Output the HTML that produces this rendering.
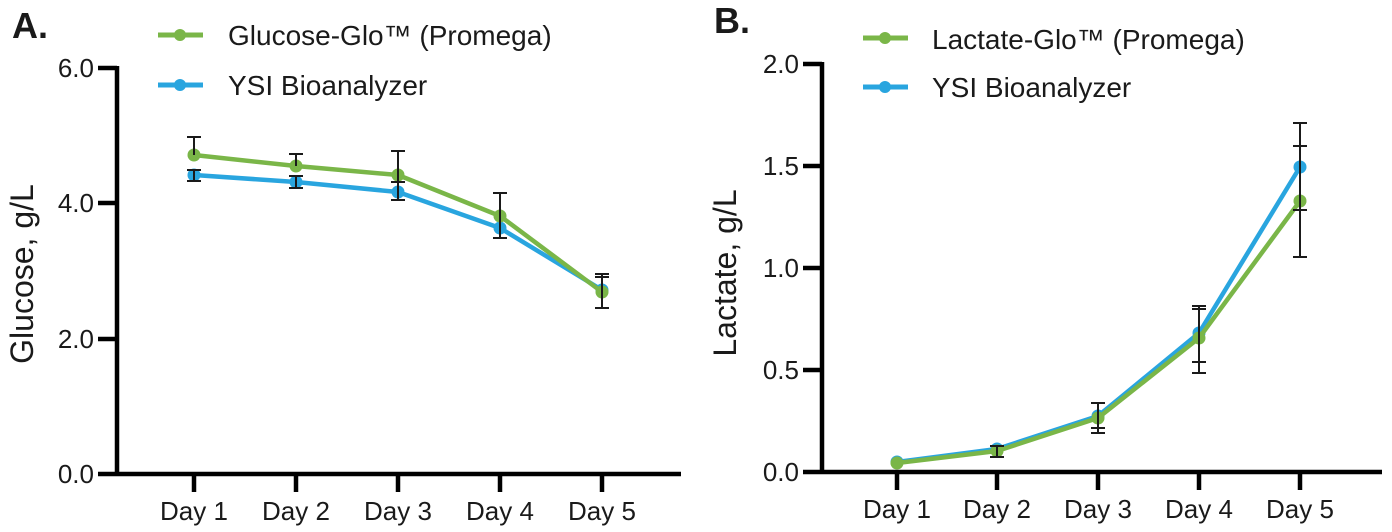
<!DOCTYPE html>
<html>
<head>
<meta charset="utf-8">
<style>
html,body{margin:0;padding:0;background:#fff;}
svg{display:block;}
text{font-family:"Liberation Sans",Arial,sans-serif;fill:#1a1a1a;}
</style>
</head>
<body>
<svg width="1392" height="532" viewBox="0 0 1392 532" xmlns="http://www.w3.org/2000/svg">
<!-- ================= PANEL A ================= -->
<text x="12" y="38" font-size="36" font-weight="bold">A.</text>
<!-- legend A -->
<line x1="158" y1="35" x2="203" y2="35" stroke="#7ab648" stroke-width="5"/>
<circle cx="180" cy="35" r="6" fill="#7ab648"/>
<text x="228" y="45" font-size="28">Glucose-Glo™ (Promega)</text>
<line x1="158" y1="85" x2="203" y2="85" stroke="#29a5df" stroke-width="5"/>
<circle cx="180" cy="85" r="6" fill="#29a5df"/>
<text x="228" y="95" font-size="28">YSI Bioanalyzer</text>

<!-- axes A -->
<g stroke="#000" stroke-width="4.5" fill="none">
  <line x1="117" y1="66" x2="117" y2="476"/>
  <line x1="98" y1="474" x2="681" y2="474"/>
  <line x1="98" y1="68" x2="117" y2="68"/>
  <line x1="98" y1="203" x2="117" y2="203"/>
  <line x1="98" y1="339" x2="117" y2="339"/>
  <line x1="194" y1="474" x2="194" y2="492"/>
  <line x1="296" y1="474" x2="296" y2="492"/>
  <line x1="398" y1="474" x2="398" y2="492"/>
  <line x1="500" y1="474" x2="500" y2="492"/>
  <line x1="602" y1="474" x2="602" y2="492"/>
</g>
<g font-size="26" text-anchor="end">
  <text x="94" y="77">6.0</text>
  <text x="94" y="212">4.0</text>
  <text x="94" y="348">2.0</text>
  <text x="94" y="483">0.0</text>
</g>
<g font-size="26" text-anchor="middle">
  <text x="194" y="520">Day 1</text>
  <text x="296" y="520">Day 2</text>
  <text x="398" y="520">Day 3</text>
  <text x="500" y="520">Day 4</text>
  <text x="602" y="520">Day 5</text>
</g>
<text transform="translate(33,274) rotate(-90)" font-size="32" text-anchor="middle">Glucose, g/L</text>

<!-- series A: blue -->
<polyline points="194,175 296,182 398,192 500,228 602,290" fill="none" stroke="#29a5df" stroke-width="4.5" stroke-linejoin="round"/>
<g fill="#29a5df">
  <circle cx="194" cy="175" r="6.5"/><circle cx="296" cy="182" r="6.5"/><circle cx="398" cy="192" r="6.5"/><circle cx="500" cy="228" r="6.5"/><circle cx="602" cy="290" r="6.5"/>
</g>
<!-- series A: green -->
<polyline points="194,155 296,166 398,175 500,216 602,292" fill="none" stroke="#7ab648" stroke-width="4.5" stroke-linejoin="round"/>
<g fill="#7ab648">
  <circle cx="194" cy="155" r="6.5"/><circle cx="296" cy="166" r="6.5"/><circle cx="398" cy="175" r="6.5"/><circle cx="500" cy="216" r="6.5"/><circle cx="602" cy="292" r="6.5"/>
</g>
<!-- error bars A -->
<g stroke="#1a1a1a" stroke-width="2" fill="none">
  <!-- day1 -->
  <line x1="194" y1="137" x2="194" y2="155"/><line x1="187" y1="137" x2="201" y2="137"/>
  <line x1="194" y1="170" x2="194" y2="181"/><line x1="187" y1="170" x2="201" y2="170"/><line x1="187" y1="181" x2="201" y2="181"/>
  <!-- day2 -->
  <line x1="296" y1="154" x2="296" y2="166"/><line x1="289" y1="154" x2="303" y2="154"/>
  <line x1="296" y1="176" x2="296" y2="188"/><line x1="289" y1="176" x2="303" y2="176"/><line x1="289" y1="188" x2="303" y2="188"/>
  <!-- day3 -->
  <line x1="398" y1="151" x2="398" y2="200"/><line x1="391" y1="151" x2="405" y2="151"/>
  <line x1="391" y1="182" x2="405" y2="182"/><line x1="391" y1="200" x2="405" y2="200"/>
  <!-- day4 -->
  <line x1="500" y1="193" x2="500" y2="238"/><line x1="493" y1="193" x2="507" y2="193"/>
  <line x1="493" y1="238" x2="507" y2="238"/>
  <!-- day5 -->
  <line x1="602" y1="274" x2="602" y2="308"/><line x1="595" y1="274" x2="609" y2="274"/><line x1="595" y1="277" x2="609" y2="277"/>
  <line x1="595" y1="308" x2="609" y2="308"/>
</g>

<!-- ================= PANEL B ================= -->
<text x="714" y="33" font-size="36" font-weight="bold">B.</text>
<!-- legend B -->
<line x1="863" y1="38" x2="908" y2="38" stroke="#7ab648" stroke-width="5"/>
<circle cx="885" cy="38" r="6" fill="#7ab648"/>
<text x="932" y="49" font-size="28">Lactate-Glo™ (Promega)</text>
<line x1="863" y1="87" x2="908" y2="87" stroke="#29a5df" stroke-width="5"/>
<circle cx="885" cy="87" r="6" fill="#29a5df"/>
<text x="932" y="97" font-size="28">YSI Bioanalyzer</text>

<!-- axes B -->
<g stroke="#000" stroke-width="4.5" fill="none">
  <line x1="822" y1="62" x2="822" y2="474"/>
  <line x1="803" y1="472" x2="1382" y2="472"/>
  <line x1="803" y1="64" x2="822" y2="64"/>
  <line x1="803" y1="166" x2="822" y2="166"/>
  <line x1="803" y1="268" x2="822" y2="268"/>
  <line x1="803" y1="370" x2="822" y2="370"/>
  <line x1="897" y1="472" x2="897" y2="490"/>
  <line x1="997" y1="472" x2="997" y2="490"/>
  <line x1="1098" y1="472" x2="1098" y2="490"/>
  <line x1="1199" y1="472" x2="1199" y2="490"/>
  <line x1="1300" y1="472" x2="1300" y2="490"/>
</g>
<g font-size="26" text-anchor="end">
  <text x="799" y="73">2.0</text>
  <text x="799" y="175">1.5</text>
  <text x="799" y="277">1.0</text>
  <text x="799" y="379">0.5</text>
  <text x="799" y="481">0.0</text>
</g>
<g font-size="26" text-anchor="middle">
  <text x="897" y="518">Day 1</text>
  <text x="997" y="518">Day 2</text>
  <text x="1098" y="518">Day 3</text>
  <text x="1199" y="518">Day 4</text>
  <text x="1300" y="518">Day 5</text>
</g>
<text transform="translate(736,273) rotate(-90)" font-size="32" text-anchor="middle">Lactate, g/L</text>

<!-- series B: blue -->
<polyline points="897,462 997,449 1098,416 1199,333 1300,167" fill="none" stroke="#29a5df" stroke-width="4.5" stroke-linejoin="round"/>
<g fill="#29a5df">
  <circle cx="897" cy="462" r="6.5"/><circle cx="997" cy="449" r="6.5"/><circle cx="1098" cy="416" r="6.5"/><circle cx="1199" cy="333" r="6.5"/><circle cx="1300" cy="167" r="6.5"/>
</g>
<!-- series B: green -->
<polyline points="897,463 997,451 1098,418 1199,338 1300,201" fill="none" stroke="#7ab648" stroke-width="4.5" stroke-linejoin="round"/>
<g fill="#7ab648">
  <circle cx="897" cy="463" r="6.5"/><circle cx="997" cy="451" r="6.5"/><circle cx="1098" cy="418" r="6.5"/><circle cx="1199" cy="338" r="6.5"/><circle cx="1300" cy="201" r="6.5"/>
</g>
<!-- error bars B -->
<g stroke="#1a1a1a" stroke-width="2" fill="none">
  <!-- day2 -->
  <line x1="997" y1="446" x2="997" y2="457"/><line x1="990" y1="446" x2="1004" y2="446"/><line x1="990" y1="457" x2="1004" y2="457"/>
  <!-- day3 -->
  <line x1="1098" y1="403" x2="1098" y2="433"/><line x1="1091" y1="403" x2="1105" y2="403"/>
  <line x1="1091" y1="428" x2="1105" y2="428"/><line x1="1091" y1="433" x2="1105" y2="433"/>
  <!-- day4 -->
  <line x1="1199" y1="306" x2="1199" y2="373"/><line x1="1192" y1="306" x2="1206" y2="306"/><line x1="1192" y1="309" x2="1206" y2="309"/>
  <line x1="1192" y1="362" x2="1206" y2="362"/><line x1="1192" y1="373" x2="1206" y2="373"/>
  <!-- day5 -->
  <line x1="1300" y1="123" x2="1300" y2="257"/><line x1="1293" y1="123" x2="1307" y2="123"/><line x1="1293" y1="146" x2="1307" y2="146"/>
  <line x1="1293" y1="210" x2="1307" y2="210"/><line x1="1293" y1="257" x2="1307" y2="257"/>
</g>
</svg>
</body>
</html>
